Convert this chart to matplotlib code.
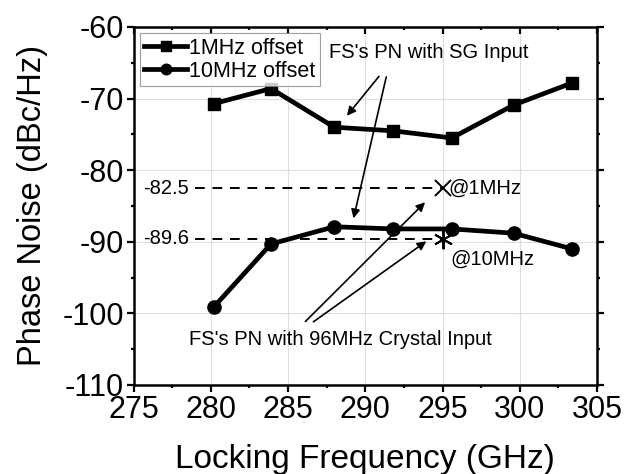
import matplotlib
matplotlib.use("Agg")
import matplotlib.pyplot as plt
from matplotlib.ticker import MultipleLocator

plt.rcParams['font.family'] = ['Liberation Sans', 'DejaVu Sans']
plt.rcParams['axes.unicode_minus'] = False

freq_1m = [280.2, 283.9, 288.0, 291.8, 295.6, 299.6, 303.4]
pn_1m = [-70.7, -68.6, -74.0, -74.5, -75.5, -70.9, -67.8]
freq_10m = [280.2, 283.9, 288.0, 291.8, 295.6, 299.6, 303.4]
pn_10m = [-99.1, -90.3, -87.9, -88.2, -88.2, -88.8, -91.0]
crystal_freq = 295.0
crystal_1m = -82.5
crystal_10m = -89.6

fig = plt.figure(figsize=(6.3, 4.74), dpi=100)
ax = fig.add_axes([133.5 / 630, 1 - 385 / 474, (597 - 133.5) / 630, (385 - 27) / 474])

ax.plot(freq_1m, pn_1m, color='black', lw=3.4, marker='s', ms=9, label='1MHz offset')
ax.plot(freq_10m, pn_10m, color='black', lw=3.4, marker='o', ms=9.5, label='10MHz offset')

# dashed reference lines
ax.plot([279.0, crystal_freq], [crystal_1m, crystal_1m], color='black', lw=1.4, ls=(0, (5, 4)))
ax.plot([279.0, crystal_freq], [crystal_10m, crystal_10m], color='black', lw=1.4, ls=(0, (5, 4)))
ax.plot([crystal_freq], [crystal_1m], marker='x', color='black', ms=12, mew=1.4, ls='none')
ax.plot([crystal_freq], [crystal_10m], marker=(6, 2, 0), color='black', ms=14, mew=1.4, ls='none')

fs = 14.5
ax.text(275.6, crystal_1m, '-82.5', fontsize=fs, va='center', ha='left')
ax.text(275.6, crystal_10m, '-89.6', fontsize=fs, va='center', ha='left')
ax.text(295.4, crystal_1m, '@1MHz', fontsize=fs, va='center', ha='left')
ax.text(295.5, -92.4, '@10MHz', fontsize=fs, va='center', ha='left')

ax.text(294.1, -63.6, "FS's PN with SG Input", fontsize=fs, va='center', ha='center')
arr = dict(arrowstyle='-|>', color='black', lw=1.2, mutation_scale=13)
ax.annotate('', xy=(288.7, -72.7), xytext=(291.0, -66.6), arrowprops=arr)
ax.annotate('', xy=(289.2, -87.1), xytext=(291.4, -66.6), arrowprops=arr)

ax.text(288.4, -103.6, "FS's PN with 96MHz Crystal Input", fontsize=fs, va='center', ha='center')
ax.annotate('', xy=(294.0, -84.2), xytext=(286.0, -101.4), arrowprops=arr)
ax.annotate('', xy=(294.1, -89.7), xytext=(286.5, -101.4), arrowprops=arr)

ax.set_xlim(275, 305)
ax.set_ylim(-110, -60)
ax.xaxis.set_major_locator(MultipleLocator(5))
ax.xaxis.set_minor_locator(MultipleLocator(2.5))
ax.yaxis.set_major_locator(MultipleLocator(10))
ax.yaxis.set_minor_locator(MultipleLocator(5))
ax.tick_params(which='both', direction='out', bottom=True, left=True, right=True, width=1.6)
ax.tick_params(which='major', length=5, labelsize=22, pad=2)
ax.tick_params(which='minor', length=2.5)
ax.tick_params(axis='x', which='both', top=True)
# top ticks point inward
for t in ax.xaxis.get_major_ticks() + ax.xaxis.get_minor_ticks():
    t.tick2line.set_marker(matplotlib.lines.TICKDOWN)
ax.grid(True, which='major', color='#dddddd', lw=0.8)
for s in ax.spines.values():
    s.set_linewidth(1.8)

ax.set_xlabel('Locking Frequency (GHz)', fontsize=24, labelpad=14)
ax.set_ylabel('Phase Noise (dBc/Hz)', fontsize=23.5, labelpad=10)

leg = ax.legend(loc='upper left', fontsize=15.5, frameon=True, fancybox=False,
                edgecolor='#888888', handlelength=2.0, handletextpad=0.1,
                borderpad=0.2, labelspacing=0.1, borderaxespad=0.3, markerscale=0.8)
leg.get_frame().set_linewidth(0.8)

fig.savefig('out.png', dpi=100)
